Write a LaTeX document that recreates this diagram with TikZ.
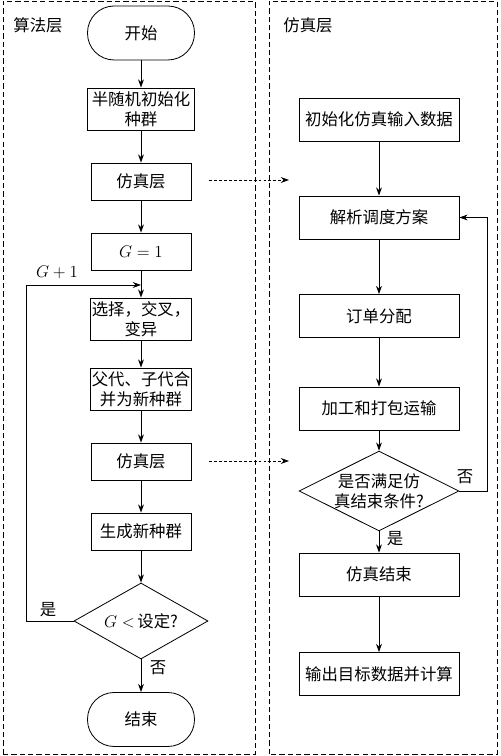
\documentclass[tikz,border=0pt]{standalone}
\usepackage{fontspec}
\newfontfamily\cjk{Noto Sans CJK SC}
\usetikzlibrary{shapes.geometric,arrows.meta}

\begin{document}
\begin{tikzpicture}
  [scale=1,>={Stealth[length=7pt,width=5pt]},line width=0.7pt,
   font=\cjk\fontsize{14pt}{17pt}\selectfont,
   panel/.style={draw,dash pattern=on 4.5pt off 2.6pt,line width=0.6pt},
   term/.style={draw,rectangle,rounded corners=0.8cm,minimum width=3.21cm,minimum height=1.62cm},
   box/.style={draw,rectangle,align=center,inner sep=1pt,minimum width=3cm,minimum height=1.11cm},
   rbox/.style={draw,rectangle,align=center,minimum width=4.8cm,minimum height=1.29cm},
   cond/.style={draw,diamond,aspect=1.8,inner sep=0pt,align=center},
   link/.style={->,dash pattern=on 2.4pt off 1.8pt},]

\useasboundingbox (0,0) rectangle (15,22.68);

% panels
\draw[panel] (0.09,0.06) rectangle (7.65,22.65);
\draw[panel] (8.07,0.06) rectangle (14.91,22.65);
\node (titleL) at (1.14,21.93) {算法层};
\node (titleR) at (9.24,21.93) {仿真层};

% algorithm layer
\node[term] (start) at (4.23,21.69) {开始};
\node[box,minimum width=3.21cm,minimum height=1.26cm] (init) at (4.23,19.41) {半随机初始化\\种群};
\node[box] (fzA) at (4.23,17.235) {仿真层};
\node[box] (gone) at (4.23,15.135) {$G=1$};
\node[box,minimum height=1.26cm] (select) at (4.23,13.11) {选择，交叉，\\变异};
\node[box,minimum height=1.26cm] (merge) at (4.23,11.01) {父代、子代合\\并为新种群};
\node[box] (fzB) at (4.23,8.835) {仿真层};
\node[box] (newpop) at (4.23,6.735) {生成新种群};
\node[cond,minimum width=4.02cm,minimum height=2.28cm] (gtest) at (4.23,4.05) {$G<$\,设定?};
\node[term] (stop) at (4.23,1.095) {结束};

\draw[->] (start) -- (init);
\draw[->] (init) -- (fzA);
\draw[->] (fzA) -- (gone);
\draw[->] (gone) -- (select);
\draw[->] (select) -- (merge);
\draw[->] (merge) -- (fzB);
\draw[->] (fzB) -- (newpop);
\draw[->] (newpop) -- (gtest);
\draw[->] (gtest) -- (stop);

\coordinate (loopL) at (4.23,14.13);
\draw[->] (gtest.west) -- ++(-1.41,0) |- (loopL);
\node (plus) at (1.71,14.52) {$G+1$};
\node (yesL) at (1.44,4.38) {是};
\node (noL) at (4.74,2.64) {否};

% simulation layer
\node[rbox] (rinit) at (11.37,19.095) {初始化仿真输入数据};
\node[rbox] (parse) at (11.37,16.155) {解析调度方案};
\node[rbox] (order) at (11.37,13.2) {订单分配};
\node[rbox] (proc) at (11.37,10.425) {加工和打包运输};
\node[cond,aspect=2,minimum width=4.5cm,minimum height=2.28cm] (stest) at (11.37,7.95) {是否满足仿\\真结束条件?};
\node[rbox] (simend) at (11.37,5.445) {仿真结束};
\node[rbox] (output) at (11.37,2.46) {输出目标数据并计算};

\draw[->] (rinit) -- (parse);
\draw[->] (parse) -- (order);
\draw[->] (order) -- (proc);
\draw[->] (proc) -- (stest);
\draw[->] (stest) -- (simend);
\draw[->] (simend) -- (output);
\draw[->] (stest.east) -- ++(0.84,0) |- (parse.east);
\node (noR) at (13.95,8.37) {否};
\node (yesR) at (11.85,6.51) {是};

% links between layers
\coordinate (inA) at (8.67,17.28);
\coordinate (inB) at (8.67,8.85);
\draw[link] ([xshift=0.54cm]fzA.east |- inA) -- (inA);
\draw[link] ([xshift=0.54cm]fzB.east |- inB) -- (inB);

\end{tikzpicture}
\end{document}
